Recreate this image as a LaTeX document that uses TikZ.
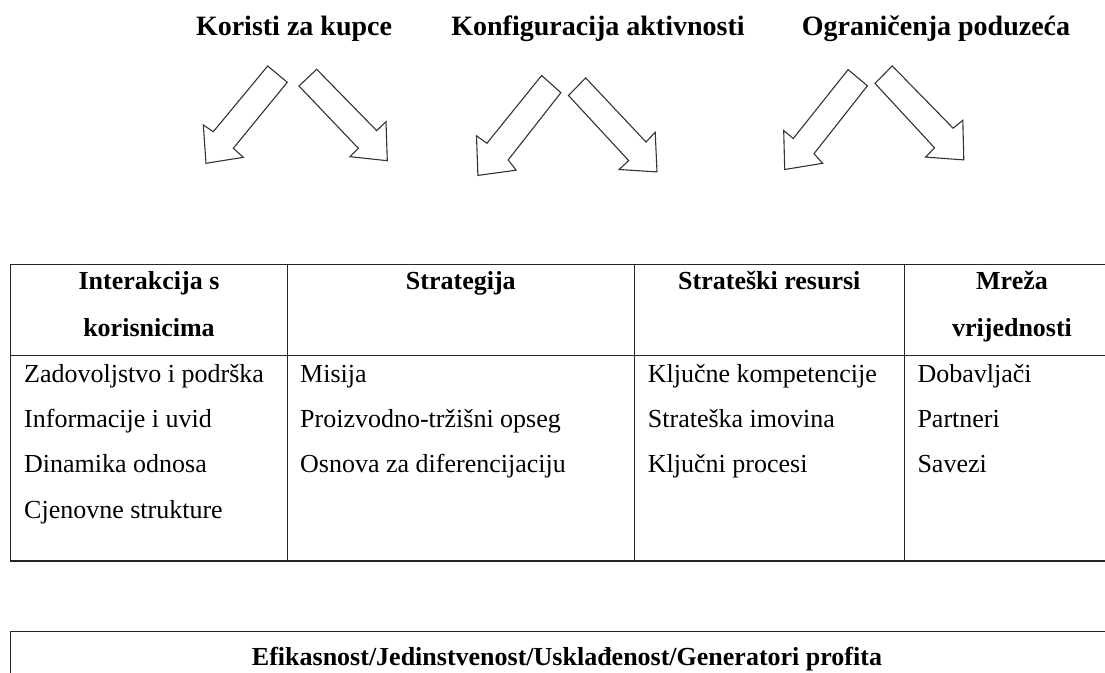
\documentclass[tikz,border=0pt]{standalone}
\usepackage{fontspec}
\setmainfont{Liberation Serif}
\begin{document}
\begin{tikzpicture}[x=1pt,y=-1pt,
  tline/.style={line width=1.3pt, draw=black!85},
  barrow/.style={draw=black!80, line width=1.1pt, fill=white, line join=miter},
  ttl/.style={font=\fontsize{28}{34}\selectfont\bfseries, anchor=base, inner sep=0pt},
  hdr/.style={font=\fontsize{26}{31}\selectfont\bfseries, anchor=base, inner sep=0pt},
  cell/.style={font=\fontsize{26}{31}\selectfont, anchor=base west, inner sep=0pt}]
\useasboundingbox (0,0) rectangle (1105,672);
\clip (0,0) rectangle (1105,672);

% titles
\node[ttl] (t1) at (294,35) {Koristi za kupce};
\node[ttl] (t2) at (598,35) {Konfiguracija aktivnosti};
\node[ttl] (t3) at (936,35) {Ograničenja poduzeća};

% block arrows
\draw[barrow] (267.7,66) -- (287.3,82.3) -- (233.3,148.3) -- (243.3,157.3) -- (206,163.3) -- (203.3,125) -- (213.3,131.7) -- cycle;
\draw[barrow] (316.7,69.3) -- (376.7,130.7) -- (386,121.7) -- (387.3,160.7) -- (350,156.7) -- (358.3,148.3) -- (299,86) -- cycle;
\draw[barrow] (541.6,75.5) -- (560.9,92.7) -- (508.2,159.9) -- (516.1,170.2) -- (477.9,175.4) -- (476.5,135.8) -- (486.9,143.3) -- cycle;
\draw[barrow] (585.7,77.9) -- (646,142) -- (655.2,132.3) -- (657,171.9) -- (619.1,169.5) -- (628.7,160.6) -- (568.5,95.5) -- cycle;
\draw[barrow] (848.1,69.6) -- (867.4,85.8) -- (814,153.7) -- (822.6,163.3) -- (784.7,169.5) -- (783.7,130.6) -- (793.3,138.5) -- cycle;
\draw[barrow] (892.2,65.9) -- (953.1,128.2) -- (962.8,120.3) -- (963.8,159.9) -- (925.6,157.1) -- (934.5,147.8) -- (875,83.4) -- cycle;

% table
\draw[tline] (10.7,264.3) rectangle (1120,561);
\draw[tline] (10.7,355.7) -- (1120,355.7);
\draw[tline] (287.3,264.3) -- (287.3,561);
\draw[tline] (634.3,264.3) -- (634.3,561);
\draw[tline] (904.3,264.3) -- (904.3,561);

\node[hdr] (h1a) at (149,289.3) {Interakcija s};
\node[hdr] (h1b) at (149,336) {korisnicima};
\node[hdr] (h2) at (460.8,289.3) {Strategija};
\node[hdr] (h3) at (769.3,289.3) {Strateški resursi};
\node[hdr] (h4a) at (1012,289.3) {Mreža};
\node[hdr] (h4b) at (1012,336) {vrijednosti};

\node[cell] (c11) at (24,382.3) {Zadovoljstvo i podrška};
\node[cell] (c12) at (24,427.7) {Informacije i uvid};
\node[cell] (c13) at (24,472.3) {Dinamika odnosa};
\node[cell] (c14) at (24,518.3) {Cjenovne strukture};

\node[cell] (c21) at (300,382.3) {Misija};
\node[cell] (c22) at (300,427.7) {Proizvodno-tržišni opseg};
\node[cell] (c23) at (300,472.3) {Osnova za diferencijaciju};

\node[cell] (c31) at (647.7,382.3) {Ključne kompetencije};
\node[cell] (c32) at (647.7,427.7) {Strateška imovina};
\node[cell] (c33) at (647.7,472.3) {Ključni procesi};

\node[cell] (c41) at (917.3,382.3) {Dobavljači};
\node[cell] (c42) at (917.3,427.7) {Partneri};
\node[cell] (c43) at (917.3,472.3) {Savezi};

% bottom box
\draw[tline] (10.7,700) -- (10.7,631.7) -- (1123,631.7) -- (1123,700);
\node[hdr] (b1) at (567,665) {Efikasnost/Jedinstvenost/Usklađenost/Generatori profita};
\end{tikzpicture}
\end{document}
